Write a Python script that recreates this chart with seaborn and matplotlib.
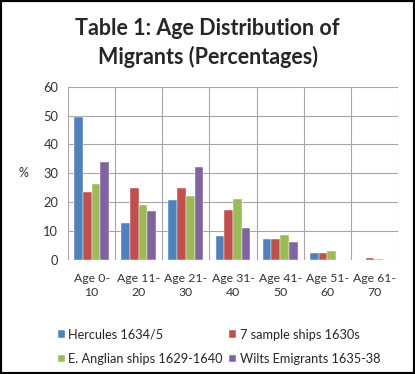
import pandas as pd
import matplotlib
matplotlib.use("Agg")
import matplotlib.pyplot as plt
from matplotlib.patches import Rectangle
from matplotlib.ticker import MultipleLocator
import seaborn as sns

# ----------- DATA ------------

age_groups = ["Age 0-\n10", "Age 11-\n20", "Age 21-\n30", "Age 31-\n40",
              "Age 41-\n50", "Age 51-\n60", "Age 61-\n70"]
hercules = [49.4, 12.8, 20.7, 8.1, 7.1, 2.3, 0.0]
sample_ships = [23.6, 24.8, 24.8, 17.2, 7.1, 2.2, 0.4]
anglian_ships = [26.3, 19.0, 22.1, 20.9, 8.6, 2.8, 0.3]
wilts = [33.9, 17.0, 32.3, 10.8, 6.1, 0.0, 0.0]

series_names = ["Hercules 1634/5", "7 sample ships 1630s",
                "E. Anglian ships 1629-1640", "Wilts Emigrants 1635-38"]
colors = ["#4F81BD", "#C0504D", "#9BBB59", "#8064A2"]

rows = []
for name, vals in zip(series_names, [hercules, sample_ships, anglian_ships, wilts]):
    for age, v in zip(age_groups, vals):
        rows.append({"age": age, "pct": v, "series": name})
df = pd.DataFrame(rows)

# ----------- PLOT ------------

sns.set_style("white")
plt.rcParams["font.family"] = ["Lato", "DejaVu Sans"]

fig = plt.figure(figsize=(4.15, 3.74), dpi=100)
ax = fig.add_axes([0.164, 0.306, 0.795, 0.462])

sns.barplot(data=df, x="age", y="pct", hue="series", palette=colors,
            width=0.74, gap=0, edgecolor="white", linewidth=0.3,
            saturation=1, ax=ax, legend=True)

ax.set_xlim(-0.5, 6.5)
ax.set_ylim(0, 60)
ax.yaxis.set_major_locator(MultipleLocator(10))
ax.set_xticks([i + 0.5 for i in range(-1, 7)], minor=True)
ax.grid(True, which="major", axis="y", color="#A6A6A6", linewidth=0.8)
ax.grid(True, which="minor", axis="x", color="#A6A6A6", linewidth=0.8)
ax.set_axisbelow(True)
for s in ax.spines.values():
    s.set_visible(False)
ax.tick_params(axis="x", which="major", length=0, labelsize=8.8, pad=10, colors="#333333")
ax.tick_params(axis="x", which="minor", length=3, color="#A6A6A6")
ax.tick_params(axis="y", length=3, color="#A6A6A6", labelsize=9.3, pad=4, colors="#333333")
for lab in ax.get_xticklabels():
    lab.set_linespacing(1.3)
ax.set_xlabel("")
ax.set_ylabel("%", rotation=0, fontsize=9, labelpad=14, color="#333333", va="center")

# legend: row 1 = Hercules, 7 sample ; row 2 = E. Anglian, Wilts
handles, labels = ax.get_legend_handles_labels()
ax.get_legend().remove()
order = [0, 2, 1, 3]
fig.legend([handles[i] for i in order], [labels[i] for i in order],
           ncol=2, loc="upper left", bbox_to_anchor=(0.125, 0.138),
           frameon=False, fontsize=9.2, handlelength=0.55, handleheight=0.55,
           handletextpad=0.25, columnspacing=0.5, labelspacing=0.95, borderpad=0)

fig.text(0.5, 0.885, "Table 1: Age Distribution of\nMigrants (Percentages)",
         ha="center", va="center", fontsize=15.5, fontweight="bold", linespacing=1.35)

fig.patches.append(Rectangle((0, 0), 1, 1, transform=fig.transFigure,
                             fill=False, edgecolor="black", linewidth=3))

fig.savefig("out.png", dpi=100)
